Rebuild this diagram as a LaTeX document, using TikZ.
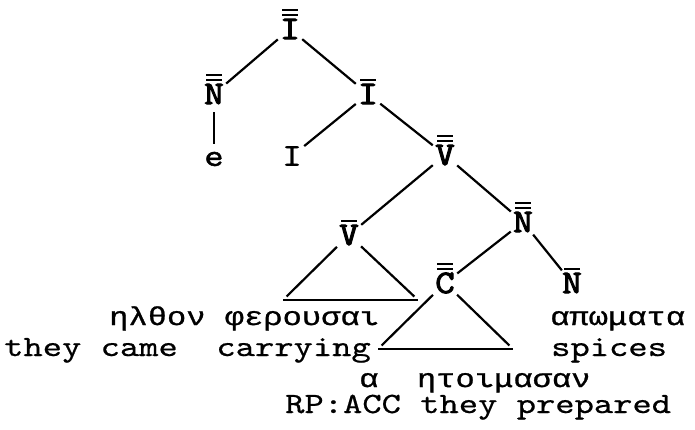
\documentclass[tikz,border=0pt]{standalone}
\usepackage{fontspec}
% typewriter faces, widened to a 19.3pt character pitch
\newfontfamily\twtext[FakeStretch=1.25,FakeBold=0.6]{lmmono10-regular.otf}
\newfontfamily\twcat[FakeStretch=1.12,FakeBold=3]{lmmono10-regular.otf}
\newfontfamily\twleaf[FakeStretch=1.15,FakeBold=1.2]{lmmono10-regular.otf}
\newfontfamily\twgreek[FakeStretch=1.24,FakeBold=1]{Liberation Mono}
% overbars above a category label
\newcommand\onebar[1]{\draw[barline] ([xshift=-8pt,yshift=3.5pt]#1.north) -- ([xshift=8pt,yshift=3.5pt]#1.north);}
\newcommand\twobars[1]{\onebar{#1}\draw[barline] ([xshift=-8pt,yshift=8.5pt]#1.north) -- ([xshift=8pt,yshift=8.5pt]#1.north);}
\begin{document}
\begin{tikzpicture}[x=1pt,y=-1pt,
  cat/.style={inner sep=0pt, font=\twcat\fontsize{33}{35}\selectfont},
  leaf/.style={inner sep=0pt, font=\twleaf\fontsize{32}{34}\selectfont},
  word/.style={inner sep=0pt, anchor=base west, font=\twtext\fontsize{29.4}{32}\selectfont},
  gword/.style={inner sep=0pt, anchor=base west, font=\twgreek\fontsize{25.9}{28}\selectfont},
  branch/.style={line width=2.2pt, shorten <=3pt, shorten >=3pt},
  barline/.style={line width=2.2pt},
]
\useasboundingbox (0,0) rectangle (695,430);
\fill[white] (0,0) rectangle (695,430);

% category labels
\node[cat]  (t)  at (290,29)  {I};
\node[cat]  (n1) at (214,94)  {N};
\node[cat]  (i1) at (368,94)  {I};
\node[leaf] (e)  at (214,159) {e};
\node[leaf] (i0) at (292,156) {I};
\node[cat]  (v2) at (445,155) {V};
\node[cat]  (v1) at (349,235) {V};
\node[cat]  (n2) at (523,222) {N};
\node[cat]  (c2) at (445,283) {C};
\node[cat]  (n3) at (572,283) {N};

\twobars{t}
\twobars{n1}
\onebar{i1}
\twobars{v2}
\onebar{v1}
\twobars{n2}
\twobars{c2}
\onebar{n3}

% corners of the two triangles
\coordinate (vbl) at (283,300);
\coordinate (vbr) at (418,300);
\coordinate (cbl) at (378,349);
\coordinate (cbr) at (513,349);

% branches
\draw[branch] (t) -- (n1);
\draw[branch] (t) -- (i1);
\draw[branch, shorten <=8pt, shorten >=8pt] (n1) -- (e);
\draw[branch] (i1) -- (i0);
\draw[branch] (i1) -- (v2);
\draw[branch] (v2) -- (v1);
\draw[branch] (v2) -- (n2);
\draw[branch] (n2) -- (c2);
\draw[branch] (n2) -- (n3);

% triangles
\draw[branch, shorten >=5pt] (v1) -- (vbl);
\draw[branch, shorten >=5pt] (v1) -- (vbr);
\draw[line width=2.2pt] (vbl) -- (vbr);
\draw[branch, shorten >=5pt] (c2) -- (cbl);
\draw[branch, shorten >=5pt] (c2) -- (cbr);
\draw[line width=2.2pt] (cbl) -- (cbr);

% words and glosses
\node[gword] (g1) at (109,325) {ηλθον φερουσαι};
\node[gword] (g2) at (550,325) {απωματα};
\node[word]  (w1) at (4,356)   {they came\ \ carrying};
\node[word]  (w2) at (551,356) {spices};
\node[gword] (g3) at (359,387) {α\ \ ητοιμασαν};
\node[word]  (w3) at (285,413) {RP:ACC they prepared};
\end{tikzpicture}
\end{document}
